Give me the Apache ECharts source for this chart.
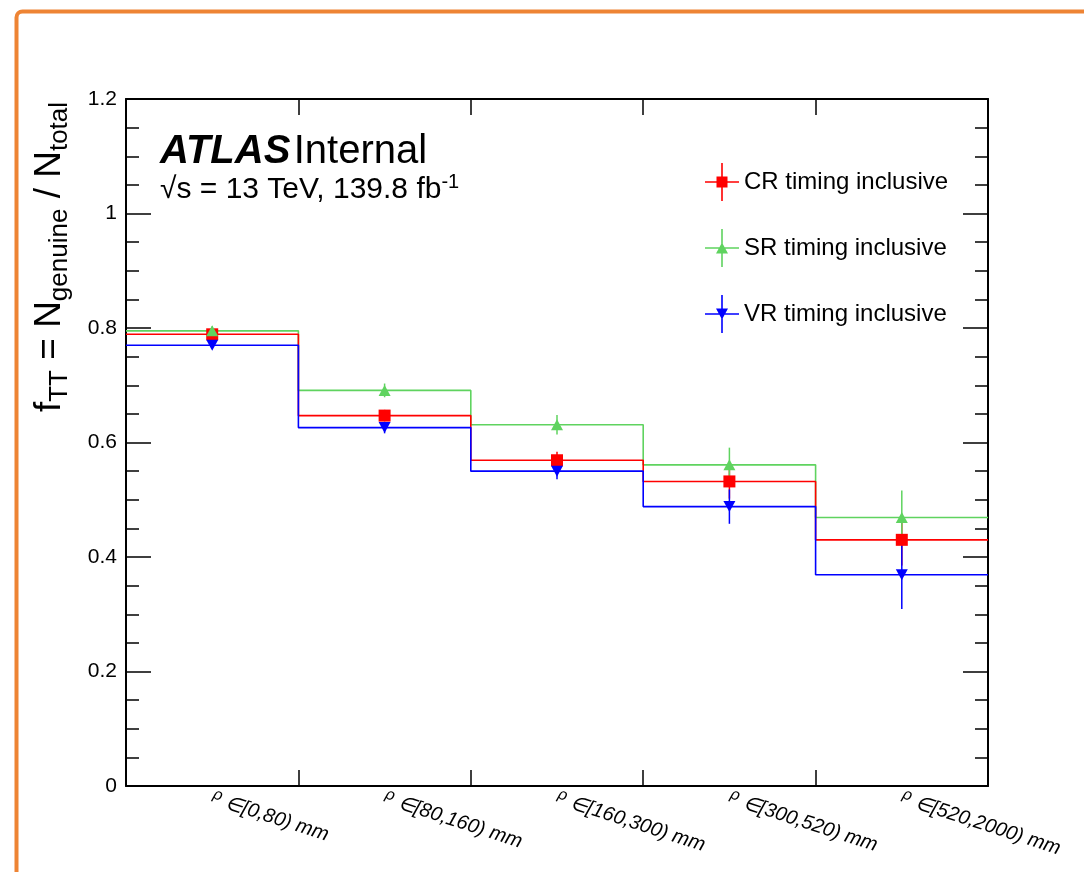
<!DOCTYPE html>
<html>
<head>
<meta charset="utf-8">
<script src="https://cdn.jsdelivr.net/npm/echarts@6/dist/echarts.min.js"></script>
<style>
    html, body { margin: 0; padding: 0; background: #fff; }
    #chart { width: 1084px; height: 872px; }
</style>
</head>
<body>
<div id="chart"></div>
<script>
// bins of rho
const binLabels = ['[0,80) mm', '[80,160) mm', '[160,300) mm', '[300,520) mm', '[520,2000) mm']

// fraction of genuine over total, per bin
const crValues = [0.789, 0.647, 0.569, 0.532, 0.430]
const crErrors = [0.006, 0.010, 0.015, 0.030, 0.045]
const srValues = [0.795, 0.691, 0.631, 0.561, 0.469]
const srErrors = [0.008, 0.012, 0.017, 0.030, 0.047]
const vrValues = [0.770, 0.626, 0.550, 0.488, 0.369]
const vrErrors = [0.006, 0.010, 0.014, 0.030, 0.060]

const yTicks = { min: 0, max: 1.2, interval: 0.2 }

const FONT = '"Liberation Sans", Arial, Helvetica, sans-serif'

const chart = echarts.init(document.getElementById('chart'))

// histogram outline: one point per bin edge, step drawn at the end
function stepData (values) {
    const pts = values.map((v, i) => [i, v])
    pts.push([values.length, values[values.length - 1]])
    return pts
}

function errData (values, errors) {
    return values.map((v, i) => [i + 0.5, v - errors[i], v + errors[i]])
}

function pointData (values) {
    return values.map((v, i) => [i + 0.5, v])
}

const sets = [
    { name: 'CR timing inclusive', color: '#ff0000', values: crValues, errors: crErrors, symbol: 'rect', size: [12, 12], rotate: 0, icon: 'path://M0,18.2H34V19.8H0Z M16.2,0H17.8V38H16.2Z M11.5,13.5H22.5V24.5H11.5Z' },
    { name: 'SR timing inclusive', color: '#5fd35f', values: srValues, errors: srErrors, symbol: 'triangle', size: [12, 11], rotate: 0, icon: 'path://M0,18.2H34V19.8H0Z M16.2,0H17.8V38H16.2Z M11,24.5L17,13.5L23,24.5Z' },
    { name: 'VR timing inclusive', color: '#0000ff', values: vrValues, errors: vrErrors, symbol: 'triangle', size: [12, 11], rotate: 180, icon: 'path://M0,18.2H34V19.8H0Z M16.2,0H17.8V38H16.2Z M11,13.5L23,13.5L17,24.5Z' }
]

const series = []
// draw order like the reference: green, red, blue lines
;[1, 0, 2].forEach(k => {
    const s = sets[k]
    series.push({
        name: s.name + ' hist',
        type: 'line',
        step: 'end',
        xAxisIndex: 0,
        yAxisIndex: 0,
        data: stepData(s.values),
        symbol: 'none',
        silent: true,
        lineStyle: { color: s.color, width: 1.6 },
        z: 2
    })
})
sets.forEach(s => {
    series.push({
        name: s.name + ' err',
        type: 'custom',
        xAxisIndex: 0,
        yAxisIndex: 0,
        data: errData(s.values, s.errors),
        renderItem: (params, api) => {
            const lo = api.coord([api.value(0), api.value(1)])
            const hi = api.coord([api.value(0), api.value(2)])
            return {
                type: 'line',
                shape: { x1: lo[0], y1: lo[1], x2: hi[0], y2: hi[1] },
                style: { stroke: s.color, lineWidth: 1.5 }
            }
        },
        z: 3
    })
    series.push({
        name: s.name,
        type: 'scatter',
        xAxisIndex: 0,
        yAxisIndex: 0,
        data: pointData(s.values),
        symbol: s.symbol,
        symbolSize: s.size,
        symbolRotate: s.rotate,
        itemStyle: { color: s.color, opacity: 1 },
        z: 4
    })
})

const frameAxis = {
    type: 'value',
    min: 0,
    max: binLabels.length,
    interval: 1,
    splitLine: { show: false },
    axisLine: { show: true, onZero: false, lineStyle: { color: '#000', width: 2 } },
    axisTick: { show: true, inside: true, length: 16, lineStyle: { color: '#000', width: 1.5 } },
    axisLabel: { show: false }
}

const yFrame = {
    type: 'value',
    min: yTicks.min,
    max: yTicks.max,
    interval: yTicks.interval,
    splitLine: { show: false },
    axisLine: { show: true, onZero: false, lineStyle: { color: '#000', width: 2 } },
    axisTick: { show: true, inside: true, length: 25, lineStyle: { color: '#000', width: 1.5 } },
    minorTick: { show: true, splitNumber: 4, length: 13, lineStyle: { color: '#000', width: 1.5 } }
}

chart.setOption({
    animation: false,
    backgroundColor: '#ffffff',
    grid: { left: 126, right: 96, top: 99, bottom: 86, containLabel: false },
    legend: {
        orient: 'vertical',
        left: 700,
        top: 158,
        itemWidth: 34,
        itemHeight: 38,
        itemGap: 28,
        selectedMode: false,
        textStyle: { fontFamily: FONT, fontSize: 24, color: '#000' },
        data: sets.map(s => ({ name: s.name, icon: s.icon }))
    },
    xAxis: [
        Object.assign({ position: 'bottom' }, frameAxis),
        {
            type: 'category',
            position: 'bottom',
            data: binLabels,
            boundaryGap: true,
            axisLine: { show: false, onZero: false },
            axisTick: { show: false },
            axisLabel: {
                rotate: -18,
                margin: 12,
                fontFamily: FONT,
                fontSize: 20,
                fontStyle: 'italic',
                color: '#000',
                formatter: v => '{r|ρ} {t|∈' + v + '}',
                rich: {
                    r: { fontSize: 16, fontFamily: FONT, padding: [0, 0, 9, 0], color: '#000' },
                    t: { fontSize: 20, fontFamily: FONT, fontStyle: 'italic', color: '#000' }
                }
            }
        },
        Object.assign({ position: 'top' }, frameAxis)
    ],
    yAxis: [
        Object.assign({
            position: 'left',
            axisLabel: { margin: 9, fontFamily: FONT, fontSize: 21, color: '#000' }
        }, yFrame),
        Object.assign({
            position: 'right',
            axisLabel: { show: false }
        }, yFrame)
    ],
    graphic: [
        {
            type: 'rect',
            shape: { x: 16.5, y: 11.5, width: 1200, height: 1000, r: 6 },
            style: { fill: 'none', stroke: '#ee8434', lineWidth: 4 },
            silent: true
        },
        {
            type: 'text',
            x: 160,
            y: 152,
            style: {
                text: '{b|ATLAS} {n|Internal}',
                verticalAlign: 'middle',
                rich: {
                    b: { fontFamily: FONT, fontSize: 40, fontWeight: 'bold', fontStyle: 'italic', fill: '#000' },
                    n: { fontFamily: FONT, fontSize: 40, fill: '#000' }
                }
            }
        },
        {
            type: 'text',
            x: 160,
            y: 190,
            style: {
                text: '{n|√s = 13 TeV, 139.8 fb}{s|-1}',
                verticalAlign: 'middle',
                rich: {
                    n: { fontFamily: FONT, fontSize: 30, fill: '#000', lineHeight: 34 },
                    s: { fontFamily: FONT, fontSize: 20, fill: '#000', lineHeight: 20, padding: [0, 0, 15, 0] }
                }
            }
        },
        {
            type: 'text',
            x: 50,
            y: 257,
            rotation: Math.PI / 2,
            style: {
                text: '{m|f}{s|TT}{m| = N}{s|genuine}{m| / N}{s|total}',
                align: 'center',
                verticalAlign: 'middle',
                rich: {
                    m: { fontFamily: FONT, fontSize: 37, fill: '#000', lineHeight: 44 },
                    s: { fontFamily: FONT, fontSize: 26, fill: '#000', lineHeight: 26, padding: [20, 0, 0, 0] }
                }
            }
        }
    ],
    series: series
})
</script>
</body>
</html>
